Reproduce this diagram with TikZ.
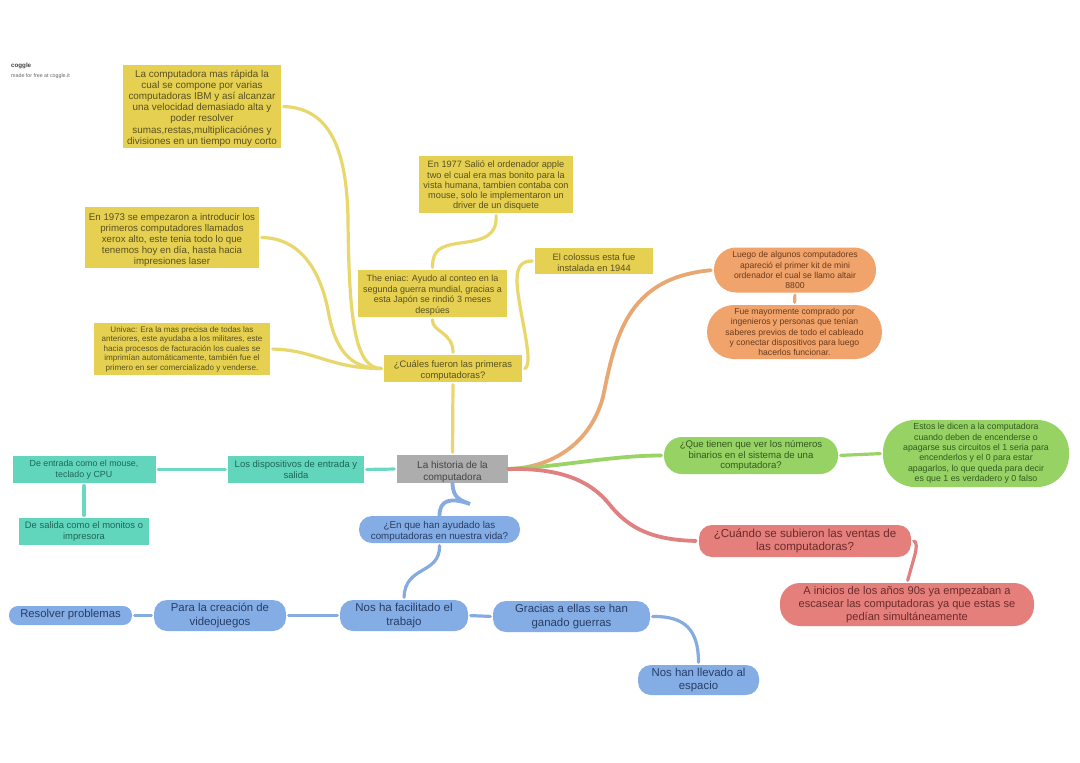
\documentclass[tikz,border=0pt]{standalone}
\usepackage{fontspec}
\setmainfont{Liberation Sans}
\definecolor{cyel}{HTML}{E5D052}
\definecolor{lyel}{HTML}{E8D76A}
\definecolor{tyel}{HTML}{5A5120}
\definecolor{cgry}{HTML}{ADADAD}
\definecolor{tgry}{HTML}{444444}
\definecolor{ctea}{HTML}{62D6BC}
\definecolor{ltea}{HTML}{6BD8C4}
\definecolor{ttea}{HTML}{1E6656}
\definecolor{cblu}{HTML}{84ADE6}
\definecolor{lblu}{HTML}{85ABE0}
\definecolor{tblu}{HTML}{293D63}
\definecolor{cred}{HTML}{E57F7B}
\definecolor{lred}{HTML}{E08080}
\definecolor{tred}{HTML}{6B2B2B}
\definecolor{cora}{HTML}{F0A36A}
\definecolor{lora}{HTML}{E8A873}
\definecolor{tora}{HTML}{6B3B1E}
\definecolor{cgrn}{HTML}{97D264}
\definecolor{lgrn}{HTML}{9AD466}
\definecolor{tgrn}{HTML}{335A1F}
\newcommand{\tpa}{\rule{0pt}{1.25em}}
\newcommand{\tpb}{\rule{0pt}{1.05em}}
\newcommand{\tpu}{\rule[-0.35em]{0pt}{1pt}}
\tikzset{
  box/.style={inner sep=0pt,align=center},
  sz/.style 2 args={minimum width=#1pt,minimum height=#2pt},
  fs/.style 2 args={font={\fontsize{#1}{#2}\selectfont}},
  yel/.style={box,fill=cyel,text=tyel},
  gry/.style={box,fill=cgry,text=tgry},
  tea/.style={box,fill=ctea,text=ttea},
  blu/.style={box,fill=cblu,text=tblu},
  redn/.style={box,fill=cred,text=tred},
  oran/.style={box,fill=cora,text=tora},
  grn/.style={box,fill=cgrn,text=tgrn},
  link/.style={line width=3.2pt,line cap=round,shorten <=2.5pt,shorten >=2.5pt},
}
\begin{document}
\begin{tikzpicture}[x=1pt,y=-1pt]
\fill[white] (0,0) rectangle (1080,763);
\useasboundingbox (0,0) rectangle (1080,763);
\node[yel,sz={158}{83},fs={9.9}{11.2}] (y1) at (202,106.5) {\tpb La computadora mas rápida la\\cual se compone por varias\\computadoras IBM y así alcanzar\\una velocidad demasiado alta y\\poder resolver\\sumas,restas,multiplicaciónes y\\divisiones en un tiempo muy corto};
\node[yel,sz={174}{61},fs={9.7}{11.1}] (y2) at (172,237.5) {\tpa En 1973 se empezaron a introducir los\\primeros computadores llamados\\xerox alto, este tenia todo lo que\\tenemos hoy en día, hasta hacia\\impresiones laser};
\node[yel,sz={176}{52},fs={8.1}{9.5}] (y3) at (182,349) {Univac: Era la mas precisa de todas las\\anteriores, este ayudaba a los militares, este\\hacia procesos de facturación los cuales se\\imprimían automáticamente, también fue el\\primero en ser comercializado y venderse.};
\node[yel,sz={154}{57},fs={9.2}{10.3}] (y4) at (496,184.5) {\tpb En 1977 Salió el ordenador apple\\two el cual era mas bonito para la\\vista humana, tambien contaba con\\mouse, solo le implementaron un\\driver de un disquete};
\node[yel,sz={149}{47},fs={9}{10.5}] (y5) at (432.5,293.5) {\tpb The eniac: Ayudo al conteo en la\\segunda guerra mundial, gracias a\\esta Japón se rindió 3 meses\\despúes};
\node[yel,sz={118}{26},fs={9.3}{11}] (y6) at (594,261) {\tpb El colossus esta fue\\instalada en 1944};
\node[yel,sz={138}{27},fs={9.4}{11}] (y7) at (453,368.5) {\tpa ¿Cuáles fueron las primeras\\computadoras?};
\node[gry,sz={111}{28},fs={10}{12}] (root) at (452.5,469) {\tpa La historia de la\\computadora};
\node[tea,sz={136}{27},fs={9.5}{11}] (t1) at (296,469.5) {Los dispositivos de entrada y\\salida};
\node[tea,sz={143}{27},fs={8.85}{11}] (t2) at (84,469.5) {De entrada como el mouse,\\teclado y CPU};
\node[tea,sz={130}{27},fs={9.4}{11}] (t3) at (84,531.5) {De salida como el monitos o\\impresora};
\node[blu,sz={161}{27},rounded corners=13pt,fs={9.8}{11}] (q) at (439.5,529.5) {\tpb ¿En que han ayudado las\\computadoras en nuestra vida?};
\node[blu,sz={128}{31},rounded corners=13pt,fs={11.5}{13.2}] (nf) at (404,615.5) {Nos ha facilitado el\\trabajo};
\node[blu,sz={132}{31},rounded corners=13pt,fs={11.4}{13.2}] (pc) at (220,615.5) {Para la creación de\\videojuegos};
\node[blu,sz={123}{19},rounded corners=9pt,fs={11.3}{13}] (rp) at (70.5,615.5) {\tpu Resolver problemas};
\node[blu,sz={157}{31},rounded corners=13pt,fs={11.4}{13.2}] (gg) at (571.5,616.5) {Gracias a ellas se han\\ganado guerras};
\node[blu,sz={121}{30},rounded corners=13pt,fs={11.4}{13.2}] (ne) at (698.5,680) {Nos han llevado al\\espacio};
\node[redn,sz={212}{32},rounded corners=13pt,fs={11.6}{13.4}] (r1) at (805,541) {¿Cuándo se subieron las ventas de\\las computadoras?};
\node[redn,sz={254}{43},rounded corners=20pt,fs={11.1}{12.8}] (r2) at (907,604.5) {A inicios de los años 90s ya empezaban a\\escasear las computadoras ya que estas se\\pedían simultáneamente};
\node[oran,sz={162}{45},rounded corners=22pt,fs={8.6}{10.1}] (o1) at (795,270) {Luego de algunos computadores\\apareció el primer kit de mini\\ordenador el cual se llamo altair\\8800};
\node[oran,sz={175}{54},rounded corners=27pt,fs={8.6}{10.1}] (o2) at (794.5,332) {Fue mayormente comprado por\\ingenieros y personas que tenían\\saberes previos de todo el cableado\\y conectar dispositivos para luego\\hacerlos funcionar.};
\node[grn,sz={174}{37},rounded corners=18pt,fs={9.6}{10.8}] (g1) at (751,455.5) {¿Que tienen que ver los números\\binarios en el sistema de una\\computadora?};
\node[grn,sz={186}{67},rounded corners=32pt,fs={8.8}{10.4}] (g2) at (976,453.5) {Estos le dicen a la computadora\\cuando deben de encenderse o\\apagarse sus circuitos el 1 seria para\\encenderlos y el 0 para estar\\apagarlos, lo que queda para decir\\es que 1 es verdadero y 0 falso};
\node[box,anchor=west,text=black!75,fs={6.2}{7}] (lg) at (11,65.5) {\textbf{coggle}};
\node[box,anchor=west,text=black!60,fs={5.3}{6}] (lf) at (11,76) {made for free at coggle.it};
\draw[link,lyel] (y1.east) .. controls (330,108) and (347,150) .. (348,220) .. controls (349,320) and (355,368.5) .. (y7.west);
\draw[link,lyel] (y2.east) .. controls (300,238) and (320,270) .. (328,310) .. controls (335,350) and (350,368.5) .. (y7.west);
\draw[link,lyel] (y3.east) .. controls (315,350) and (330,368.5) .. (y7.west);
\draw[link,lyel] (y4.south) .. controls (497,235) and (485,240) .. (460,243) .. controls (440,246) and (432.5,250) .. (y5.north);
\draw[link,lyel] (y5.south) .. controls (432,332) and (453,332) .. (y7.north);
\draw[link,lyel] (y6.west) .. controls (522,261) and (517,266) .. (517,280) .. controls (517,300) and (528,340) .. (528,358) .. controls (528,366) and (526,368.5) .. (y7.east);
\draw[link,lyel] (y7.south) -- (root.north);
\draw[link,ltea] (root.west) -- (t1.east);
\draw[link,ltea] (t1.west) -- (t2.east);
\draw[link,ltea] (t2.south) -- (t3.north);
\draw[line width=3.8pt,line cap=round,lblu] (root.south) .. controls (453,498) and (460,500) .. (470,504) .. controls (450,497) and (439.5,500) .. (q.north);
\draw[link,lblu] (q.south) .. controls (440,575) and (405,565) .. (nf.north);
\draw[link,lblu] (nf.west) -- (pc.east);
\draw[link,lblu] (pc.west) -- (rp.east);
\draw[link,lblu] (nf.east) -- (gg.west);
\draw[link,lblu] (gg.east) .. controls (685,616) and (698.5,630) .. (ne.north);
\draw[line width=3.8pt,line cap=round,shorten >=3pt,lora] (root.east) .. controls (550,468) and (590,445) .. (603,397) .. controls (615,340) and (625,278) .. (o1.west);
\draw[link,lora] (o1.south) -- (o2.north);
\draw[line width=3.8pt,line cap=round,shorten >=2.5pt,lgrn] (root.east) .. controls (560,467) and (610,455.5) .. (g1.west);
\draw[link,lgrn] (g1.east) -- (g2.west);
\draw[line width=3.8pt,line cap=round,shorten >=3pt,lred] (root.east) .. controls (560,468) and (590,480) .. (610,505) .. controls (630,530) and (655,540) .. (r1.west);
\draw[link,lred] (r1.east) .. controls (917,541) and (917,548) .. (914,558) -- (r2.north);
\end{tikzpicture}
\end{document}
